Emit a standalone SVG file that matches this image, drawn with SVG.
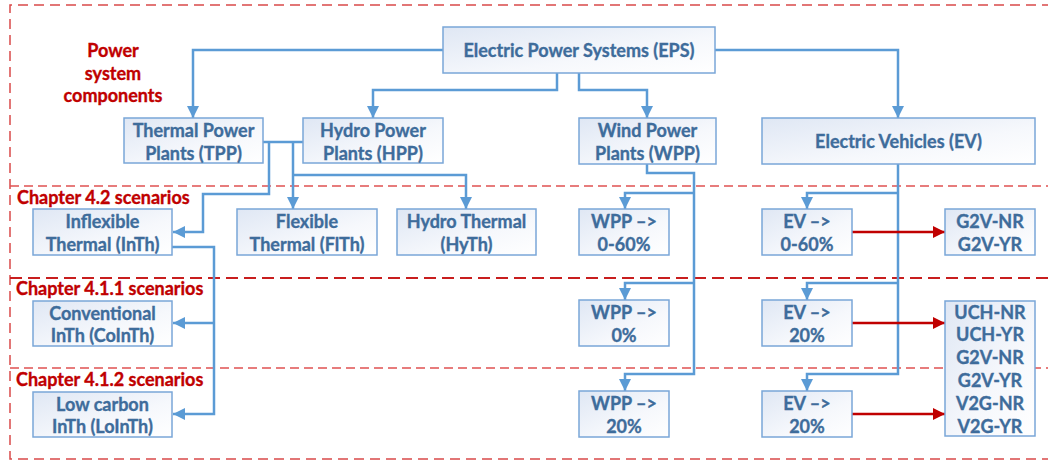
<svg xmlns="http://www.w3.org/2000/svg" width="1048" height="464" viewBox="0 0 1048 464">
<defs>
  <linearGradient id="boxfill" x1="0" y1="0" x2="1" y2="1">
    <stop offset="0" stop-color="#dfe7f4"/>
    <stop offset="0.6" stop-color="#f6f8fc"/>
    <stop offset="1" stop-color="#ffffff"/>
  </linearGradient>
  <marker id="ab" viewBox="0 0 10 10" refX="10" refY="5" markerWidth="12" markerHeight="12" markerUnits="userSpaceOnUse" orient="auto">
    <path d="M0,0 L10,5 L0,10 z" fill="#5b9bd5"/>
  </marker>
  <marker id="ar" viewBox="0 0 10 10" refX="10" refY="5" markerWidth="12" markerHeight="12" markerUnits="userSpaceOnUse" orient="auto">
    <path d="M0,0 L10,5 L0,10 z" fill="#c00000"/>
  </marker>
</defs>
<style>
  .box { fill: url(#boxfill); stroke: #7aa6d8; stroke-width: 1.5; }
  .t { font-family: Lato, "Liberation Sans", sans-serif; font-weight: bold; font-size: 18px; fill: #3e6c9b; stroke: #3e6c9b; stroke-width: 0.35; text-anchor: middle; }
  .rt { font-family: Lato, "Liberation Sans", sans-serif; font-weight: bold; font-size: 18px; fill: #c00000; stroke: #c00000; stroke-width: 0.35; }
  .c { fill: none; stroke: #5b9bd5; stroke-width: 2.5; }
  .rc { fill: none; stroke: #c00000; stroke-width: 2.5; }
  .d1 { fill: none; stroke: #d94a4a; stroke-width: 1.5; stroke-dasharray: 10 6; }
  .d2 { fill: none; stroke: #e05252; stroke-width: 1.3; stroke-dasharray: 9 5; }
  .d3 { fill: none; stroke: #c81e1e; stroke-width: 2; stroke-dasharray: 12 6; }
</style>
<rect width="1048" height="464" fill="#ffffff"/>

<g id="regions">
  <path class="d1" d="M1052,5 H10 V459 H1052"/>
  <path class="d2" d="M10,186 H1048"/>
  <path class="d3" d="M10,278 H1048"/>
  <path class="d2" d="M10,368 H1048"/>
</g>

<g id="labels">
  <text class="rt" x="113" y="57" text-anchor="middle">Power</text>
  <text class="rt" x="113" y="80" text-anchor="middle">system</text>
  <text class="rt" x="113" y="102" text-anchor="middle">components</text>
  <text class="rt" x="17" y="204">Chapter 4.2 scenarios</text>
  <text class="rt" x="16" y="295">Chapter 4.1.1 scenarios</text>
  <text class="rt" x="16" y="386">Chapter 4.1.2 scenarios</text>
</g>

<g id="connectors">
  <path class="c" d="M443,50 H193 V118" marker-end="url(#ab)"/>
  <path class="c" d="M557,73 V90 H373 V118" marker-end="url(#ab)"/>
  <path class="c" d="M579,73 V90 H647 V118" marker-end="url(#ab)"/>
  <path class="c" d="M715,50 H898 V118" marker-end="url(#ab)"/>
  <path class="c" d="M263,142 H303"/>
  <path class="c" d="M269,142 V194 H203 V232 H173" marker-end="url(#ab)"/>
  <path class="c" d="M293,142 V209" marker-end="url(#ab)"/>
  <path class="c" d="M293,175 H466 V209" marker-end="url(#ab)"/>
  <path class="c" d="M172,247 H214 V414 H173" marker-end="url(#ab)"/>
  <path class="c" d="M214,323 H173" marker-end="url(#ab)"/>
  <path class="c" d="M647,164 V173 H694 V374 H625 V391" marker-end="url(#ab)"/>
  <path class="c" d="M694,193 H625 V209" marker-end="url(#ab)"/>
  <path class="c" d="M694,283 H625 V300" marker-end="url(#ab)"/>
  <path class="c" d="M898,164 V374 H807 V391" marker-end="url(#ab)"/>
  <path class="c" d="M898,193 H807 V209" marker-end="url(#ab)"/>
  <path class="c" d="M898,283 H807 V300" marker-end="url(#ab)"/>
  <path class="rc" d="M852,232 H945" marker-end="url(#ar)"/>
  <path class="rc" d="M852,323 H945" marker-end="url(#ar)"/>
  <path class="rc" d="M852,414 H945" marker-end="url(#ar)"/>
</g>

<g id="eps">
  <rect class="box" x="443" y="27" width="272" height="46"/>
  <text class="t" x="579" y="56.5">Electric Power Systems (EPS)</text>
</g>
<g id="tpp">
  <rect class="box" x="124" y="118" width="139" height="45"/>
  <text class="t" x="193.5" y="136.5">Thermal Power</text>
  <text class="t" x="193.5" y="159.5">Plants (TPP)</text>
</g>
<g id="hpp">
  <rect class="box" x="303" y="118" width="140" height="45"/>
  <text class="t" x="373" y="136.5">Hydro Power</text>
  <text class="t" x="373" y="159.5">Plants (HPP)</text>
</g>
<g id="wpp">
  <rect class="box" x="579" y="118" width="137" height="46"/>
  <text class="t" x="647.5" y="136.5">Wind Power</text>
  <text class="t" x="647.5" y="159.5">Plants (WPP)</text>
</g>
<g id="ev">
  <rect class="box" x="762" y="118" width="273" height="46"/>
  <text class="t" x="898.5" y="147.5">Electric Vehicles (EV)</text>
</g>
<g id="inth">
  <rect class="box" x="33" y="209" width="139" height="46"/>
  <text class="t" x="102.5" y="228">Inflexible</text>
  <text class="t" x="102.5" y="250.5">Thermal (InTh)</text>
</g>
<g id="flth">
  <rect class="box" x="237" y="209" width="140" height="46"/>
  <text class="t" x="307" y="228">Flexible</text>
  <text class="t" x="307" y="250.5">Thermal (FlTh)</text>
</g>
<g id="hyth">
  <rect class="box" x="397" y="209" width="139" height="46"/>
  <text class="t" x="466.5" y="228">Hydro Thermal</text>
  <text class="t" x="466.5" y="250.5">(HyTh)</text>
</g>
<g id="cointh">
  <rect class="box" x="33" y="301" width="139" height="45"/>
  <text class="t" x="102.5" y="319.5">Conventional</text>
  <text class="t" x="102.5" y="342">InTh (CoInTh)</text>
</g>
<g id="lointh">
  <rect class="box" x="33" y="392" width="139" height="45"/>
  <text class="t" x="102.5" y="410.5">Low carbon</text>
  <text class="t" x="102.5" y="433">InTh (LoInTh)</text>
</g>
<g id="wpp-0-60">
  <rect class="box" x="579" y="209" width="90" height="46"/>
  <text class="t" x="624" y="228">WPP –&gt;</text>
  <text class="t" x="624" y="250.5">0-60%</text>
</g>
<g id="wpp-0">
  <rect class="box" x="579" y="300" width="90" height="46"/>
  <text class="t" x="624" y="319">WPP –&gt;</text>
  <text class="t" x="624" y="341.5">0%</text>
</g>
<g id="wpp-20">
  <rect class="box" x="579" y="391" width="90" height="46"/>
  <text class="t" x="624" y="410">WPP –&gt;</text>
  <text class="t" x="624" y="432.5">20%</text>
</g>
<g id="ev-0-60">
  <rect class="box" x="762" y="209" width="90" height="46"/>
  <text class="t" x="807" y="228">EV –&gt;</text>
  <text class="t" x="807" y="250.5">0-60%</text>
</g>
<g id="ev-20a">
  <rect class="box" x="762" y="300" width="90" height="46"/>
  <text class="t" x="807" y="319">EV –&gt;</text>
  <text class="t" x="807" y="341.5">20%</text>
</g>
<g id="ev-20b">
  <rect class="box" x="762" y="391" width="90" height="46"/>
  <text class="t" x="807" y="410">EV –&gt;</text>
  <text class="t" x="807" y="432.5">20%</text>
</g>
<g id="g2v">
  <rect class="box" x="945" y="209" width="90" height="46"/>
  <text class="t" x="990" y="228">G2V-NR</text>
  <text class="t" x="990" y="250.5">G2V-YR</text>
</g>
<g id="modes">
  <rect class="box" x="945" y="301" width="90" height="135"/>
  <text class="t" x="990" y="318.5">UCH-NR</text>
  <text class="t" x="990" y="340.5">UCH-YR</text>
  <text class="t" x="990" y="363.5">G2V-NR</text>
  <text class="t" x="990" y="386.5">G2V-YR</text>
  <text class="t" x="990" y="409.5">V2G-NR</text>
  <text class="t" x="990" y="432.5">V2G-YR</text>
</g>
</svg>
